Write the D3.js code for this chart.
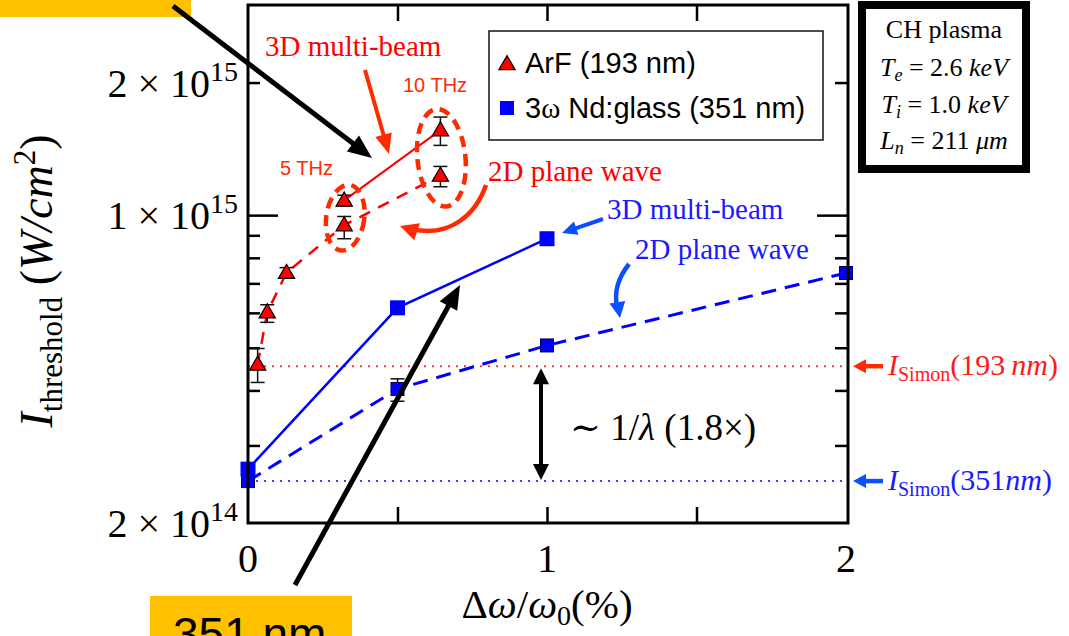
<!DOCTYPE html>
<html>
<head>
<meta charset="utf-8">
<script src="https://cdn.jsdelivr.net/npm/d3@7"></script>
<style>
  body { margin: 0; background: #fff; }
  svg { display: block; }
</style>
</head>
<body>
<script>
var width = 1069, height = 636;

// ArF (193 nm), 2D plane wave: 0.5, 1, 2, 5, 10 THz bandwidth
var arfX2D = [0.0322, 0.0644, 0.1287, 0.3218, 0.6435];
var arfY2D = [4.58e14, 6.02e14, 7.40e14, 9.49e14, 1.23e15];
var arfLo2D = [4.17e14, 5.71e14, 7.20e14, 8.84e14, 1.16e15];
var arfHi2D = [4.98e14, 6.26e14, 7.60e14, 9.93e14, 1.29e15];
// ArF 3D multi-beam: 5 and 10 THz
var arfX3D = [0.3218, 0.6435];
var arfY3D = [1.08e15, 1.56e15];
var arfLo3D = [1.05e15, 1.44e15];
var arfHi3D = [1.11e15, 1.67e15];
// 3w Nd:glass (351 nm)
var ndX3D = [0, 0.5, 1];
var ndY3D = [2.65e14, 6.16e14, 8.84e14];
var ndX2D = [0, 0.5, 1, 2];
var ndY2D = [2.49e14, 4.03e14, 5.06e14, 7.39e14];
var ndLo2D = [null, 3.78e14, 4.98e14, null];
var ndHi2D = [null, 4.25e14, 5.14e14, null];
// Simon thresholds
var simonY = [4.54e14, 2.49e14];
var simonNm = ["193", "351"];
// ticks
var xTickLabels = [0, 1, 2];
var xTicks = [0.5, 1, 1.5];
var yTickLabels = [2e14, 1e15, 2e15];
var yMajor = [1e15];
var yMinor = [3e14, 4e14, 5e14, 6e14, 7e14, 8e14, 9e14, 2e15];

var RED = "#ff0000", ORANGE = "#ff2a00", BLUE = "#0000ff", LBLUE = "#0a50ff";
var SERIF = "'Liberation Serif', 'DejaVu Serif', serif";
var SANS = "'Liberation Sans', Arial, sans-serif";

var svg = d3.select("body").append("svg")
	.attr("width", width).attr("height", height);

var x = d3.scaleLinear().domain([0, 2]).range([248, 846]);
var y = d3.scaleLog().domain([2e14, 3e15]).range([523, 5]);
var pLeft = 248, pRight = 848, pTop = 5, pBottom = 523;

// yellow boxes (slide overlay)
svg.append("rect").attr("x", 0).attr("y", 0).attr("width", 191).attr("height", 17).attr("fill", "#ffc000");
svg.append("rect").attr("x", 150).attr("y", 596).attr("width", 202).attr("height", 45).attr("fill", "#ffc000");
svg.append("text").attr("x", 173).attr("y", 650).attr("font-family", SANS).attr("font-size", 46)
	.text("351 nm");

// ticks
function noDomain(g) { g.select(".domain").remove(); g.selectAll("text").remove(); }
function tickStyle(g) { g.selectAll("line").attr("stroke", "#000").attr("stroke-width", 2.5); }

svg.append("g").attr("transform", "translate(" + pLeft + ",0)")
	.call(d3.axisLeft(y).tickValues(yMinor).tickSize(-12)).call(noDomain).call(tickStyle);
svg.append("g").attr("transform", "translate(" + pLeft + ",0)")
	.call(d3.axisLeft(y).tickValues(yMajor).tickSize(-30)).call(noDomain).call(tickStyle);
svg.append("g").attr("transform", "translate(" + pRight + ",0)")
	.call(d3.axisRight(y).tickValues(yMinor).tickSize(-13)).call(noDomain).call(tickStyle);
svg.append("g").attr("transform", "translate(" + pRight + ",0)")
	.call(d3.axisRight(y).tickValues(yMajor).tickSize(-31)).call(noDomain).call(tickStyle);
svg.append("g").attr("transform", "translate(0," + pBottom + ")")
	.call(d3.axisBottom(x).tickValues(xTicks).tickSize(-16)).call(noDomain).call(tickStyle);
svg.append("g").attr("transform", "translate(0," + pTop + ")")
	.call(d3.axisTop(x).tickValues(xTicks).tickSize(-16)).call(noDomain).call(tickStyle);

// y tick labels  m x 10^e
yTickLabels.forEach(function(v) {
	var e = Math.floor(Math.log10(v) + 1e-9), m = Math.round(v / Math.pow(10, e));
	var t = svg.append("text").attr("x", 238).attr("y", y(v) + 14)
		.attr("text-anchor", "end").attr("font-family", SERIF).attr("font-size", 40);
	t.append("tspan").text(m);
	t.append("tspan").attr("dx", 10).text("\u00d7");
	t.append("tspan").attr("dx", 10).text("10");
	t.append("tspan").attr("dy", -16).attr("font-size", 28).text(e);
});
// x tick labels
svg.selectAll(".xl").data(xTickLabels).enter().append("text")
	.attr("x", function(d) { return x(d); }).attr("y", 572)
	.attr("text-anchor", "middle").attr("font-family", SERIF).attr("font-size", 40)
	.text(function(d) { return d; });

// axis titles
var xt = svg.append("text").attr("x", 547).attr("y", 618).attr("text-anchor", "middle")
	.attr("font-family", SERIF).attr("font-size", 41);
xt.append("tspan").text("\u0394");
xt.append("tspan").attr("font-style", "italic").text("\u03c9");
xt.append("tspan").text("/");
xt.append("tspan").attr("font-style", "italic").text("\u03c9");
xt.append("tspan").attr("dy", 7).attr("font-size", 28).text("0");
xt.append("tspan").attr("dy", -7).text("(%)");

var yt = svg.append("text").attr("transform", "translate(52,281) rotate(-90)")
	.attr("text-anchor", "middle").attr("font-family", SERIF).attr("font-size", 46);
yt.append("tspan").attr("font-style", "italic").text("I");
yt.append("tspan").attr("dy", 10).attr("font-size", 31).text("threshold");
yt.append("tspan").attr("dy", -10).text(" (");
yt.append("tspan").attr("font-style", "italic").text("W/cm");
yt.append("tspan").attr("dy", -17).attr("font-size", 31).text("2");
yt.append("tspan").attr("dy", 17).text(")");

// Simon reference lines
simonY.forEach(function(v, i) {
	svg.append("line").attr("x1", pLeft).attr("x2", pRight).attr("y1", y(v)).attr("y2", y(v))
		.attr("stroke", i ? "#3344ff" : "#ff3333").attr("stroke-width", 2).attr("stroke-dasharray", "2,6");
});

// data lines
var line = d3.line().x(function(d) { return x(d[0]); }).y(function(d) { return y(d[1]); });
svg.append("path").attr("d", line(d3.zip(ndX3D, ndY3D))).attr("fill", "none")
	.attr("stroke", BLUE).attr("stroke-width", 2.5);
svg.append("path").attr("d", line(d3.zip(ndX2D, ndY2D))).attr("fill", "none")
	.attr("stroke", BLUE).attr("stroke-width", 3).attr("stroke-dasharray", "15,9");
svg.append("path").attr("d", line(d3.zip(arfX3D, arfY3D))).attr("fill", "none")
	.attr("stroke", RED).attr("stroke-width", 2);
svg.append("path").attr("d", line(d3.zip(arfX2D, arfY2D))).attr("fill", "none")
	.attr("stroke", RED).attr("stroke-width", 2.5).attr("stroke-dasharray", "12,9");

// error bars
function errBars(xs, lo, hi) {
	xs.forEach(function(xv, i) {
		if (lo[i] == null) return;
		var px = x(xv), g = svg.append("g").attr("stroke", "#111").attr("stroke-width", 1.5);
		g.append("line").attr("x1", px).attr("x2", px).attr("y1", y(lo[i])).attr("y2", y(hi[i]));
		g.append("line").attr("x1", px - 7).attr("x2", px + 7).attr("y1", y(lo[i])).attr("y2", y(lo[i]));
		g.append("line").attr("x1", px - 7).attr("x2", px + 7).attr("y1", y(hi[i])).attr("y2", y(hi[i]));
	});
}
errBars(arfX2D, arfLo2D, arfHi2D);
errBars(arfX3D, arfLo3D, arfHi3D);
errBars(ndX2D, ndLo2D, ndHi2D);

// markers
var tri = d3.symbol().type(d3.symbolTriangle).size(115);
function triangles(xs, ys) {
	svg.selectAll(null).data(d3.zip(xs, ys)).enter().append("path")
		.attr("d", tri).attr("transform", function(d) { return "translate(" + x(d[0]) + "," + (y(d[1]) + 1) + ")"; })
		.attr("fill", RED).attr("stroke", "#000").attr("stroke-width", 1.2);
}
triangles(arfX2D, arfY2D);
triangles(arfX3D, arfY3D);
function squares(xs, ys, s, stroke) {
	svg.selectAll(null).data(d3.zip(xs, ys)).enter().append("rect")
		.attr("x", function(d) { return x(d[0]) - s / 2; }).attr("y", function(d) { return y(d[1]) - s / 2; })
		.attr("width", s).attr("height", s).attr("fill", BLUE)
		.attr("stroke", stroke || "none").attr("stroke-width", 1);
}
squares(ndX2D, ndY2D, 13, "#000050");
squares(ndX3D, ndY3D, 15);

// frame
svg.append("rect").attr("x", pLeft).attr("y", pTop).attr("width", pRight - pLeft).attr("height", pBottom - pTop)
	.attr("fill", "none").attr("stroke", "#000").attr("stroke-width", 3);

// legend
svg.append("rect").attr("x", 489).attr("y", 31).attr("width", 334).attr("height", 109)
	.attr("fill", "#fff").attr("stroke", "#111").attr("stroke-width", 1.5);
svg.append("path").attr("d", tri).attr("transform", "translate(507,65)")
	.attr("fill", RED).attr("stroke", "#000").attr("stroke-width", 1.2);
svg.append("text").attr("x", 525).attr("y", 73).attr("font-family", SANS).attr("font-size", 29).text("ArF (193 nm)");
svg.append("rect").attr("x", 500).attr("y", 101).attr("width", 14).attr("height", 14).attr("fill", BLUE);
var l2 = svg.append("text").attr("x", 525).attr("y", 118).attr("font-family", SANS).attr("font-size", 29);
l2.append("tspan").text("3");
l2.append("tspan").attr("font-family", SERIF).text("\u03c9");
l2.append("tspan").text(" Nd:glass (351 nm)");

// plasma parameter box
svg.append("rect").attr("x", 862).attr("y", 5).attr("width", 164).attr("height", 164)
	.attr("fill", "#fff").attr("stroke", "#000").attr("stroke-width", 8);
var pb = [["T", "e", " = 2.6 ", "keV"], ["T", "i", " = 1.0 ", "keV"], ["L", "n", " = 211 ", "\u03bcm"]];
svg.append("text").attr("x", 944).attr("y", 38).attr("text-anchor", "middle")
	.attr("font-family", SERIF).attr("font-size", 26).text("CH plasma");
pb.forEach(function(r, i) {
	var t = svg.append("text").attr("x", 944).attr("y", 76 + i * 36.5).attr("text-anchor", "middle")
		.attr("font-family", SERIF).attr("font-size", 26);
	t.append("tspan").attr("font-style", "italic").text(r[0]);
	t.append("tspan").attr("dy", 5).attr("font-size", 18).attr("font-style", "italic").text(r[1]);
	t.append("tspan").attr("dy", -5).text(r[2]);
	t.append("tspan").attr("font-style", "italic").text(r[3]);
});

// arrows
function head(x1, y1, x2, y2, len, wid, col) {
	var a = Math.atan2(y2 - y1, x2 - x1);
	var bx = x2 - len * Math.cos(a), by = y2 - len * Math.sin(a);
	var px = -Math.sin(a) * wid / 2, py = Math.cos(a) * wid / 2;
	svg.append("path").attr("fill", col)
		.attr("d", "M" + x2 + "," + y2 + "L" + (bx + px) + "," + (by + py) + "L" + (bx - px) + "," + (by - py) + "Z");
}
function arrow(x1, y1, x2, y2, col, w, len, wid) {
	var a = Math.atan2(y2 - y1, x2 - x1);
	svg.append("line").attr("x1", x1).attr("y1", y1)
		.attr("x2", x2 - len * 0.7 * Math.cos(a)).attr("y2", y2 - len * 0.7 * Math.sin(a))
		.attr("stroke", col).attr("stroke-width", w);
	head(x1, y1, x2, y2, len, wid, col);
}
function curved(d, c2x, c2y, ex, ey, col, w, len, wid) {
	svg.append("path").attr("d", d).attr("fill", "none").attr("stroke", col).attr("stroke-width", w);
	head(c2x, c2y, ex, ey, len, wid, col);
}

// Simon labels
simonY.forEach(function(v, i) {
	var py = y(v), col = i ? "#1a1aff" : "#ff1a1a";
	arrow(883, py, 853, py, i ? LBLUE : ORANGE, 4.5, 13, 14);
	var t = svg.append("text").attr("x", 888).attr("y", py + 9).attr("font-family", SERIF)
		.attr("font-size", 30).attr("fill", col);
	t.append("tspan").attr("font-style", "italic").text("I");
	t.append("tspan").attr("dy", 6).attr("font-size", 20).text("Simon");
	t.append("tspan").attr("dy", -6).text("(" + simonNm[i]);
	t.append("tspan").attr("font-style", "italic").text(i ? "nm" : "\u2009nm");
	t.append("tspan").text(")");
});

// 1/lambda double arrow
var ax = 541, ay1 = y(simonY[0]) + 2, ay2 = y(simonY[1]) - 1;
svg.append("line").attr("x1", ax).attr("x2", ax).attr("y1", ay1 + 12).attr("y2", ay2 - 12)
	.attr("stroke", "#000").attr("stroke-width", 4);
head(ax, ay2, ax, ay1, 16, 16, "#000");
head(ax, ay1, ax, ay2, 16, 16, "#000");
var lam = svg.append("text").attr("x", 570).attr("y", 440).attr("font-family", SERIF).attr("font-size", 37);
lam.append("tspan").text("\u223c 1/");
lam.append("tspan").attr("font-style", "italic").text("\u03bb");
lam.append("tspan").text(" (1.8\u00d7)");

// red annotations
svg.append("text").attr("x", 265).attr("y", 56).attr("font-family", SERIF).attr("font-size", 29)
	.attr("fill", RED).text("3D multi-beam");
arrow(365, 70, 389, 154, ORANGE, 4, 20, 17);
svg.append("text").attr("x", 403).attr("y", 92).attr("font-family", SANS).attr("font-size", 20)
	.attr("fill", ORANGE).text("10 THz");
svg.append("text").attr("x", 280).attr("y", 175).attr("font-family", SANS).attr("font-size", 20)
	.attr("fill", ORANGE).text("5 THz");
svg.append("text").attr("x", 488).attr("y", 181).attr("font-family", SERIF).attr("font-size", 29)
	.attr("fill", RED).text("2D plane wave");
curved("M486,185 C476,214 450,238 412,229", 430, 236, 400, 226, ORANGE, 4.5, 18, 18);

// dashed ellipses round the 5 and 10 THz pairs
[[arfX2D[3], arfY2D[3], arfY3D[0], 19, 33, 8], [arfX2D[4], arfY2D[4], arfY3D[1], 24, 49, -6]].forEach(function(e) {
	var cx = x(e[0]) + 1, cy = (y(e[1]) + y(e[2])) / 2 + 5;
	svg.append("ellipse").attr("cx", 0).attr("cy", 0).attr("rx", e[3]).attr("ry", e[4])
		.attr("transform", "translate(" + cx + "," + cy + ") rotate(" + e[5] + ")")
		.attr("fill", "none").attr("stroke", ORANGE).attr("stroke-width", 4.5).attr("stroke-dasharray", "11,7");
});

// blue annotations
svg.append("text").attr("x", 607).attr("y", 219).attr("font-family", SERIF).attr("font-size", 29)
	.attr("fill", "#1a1aff").text("3D multi-beam");
arrow(603, 219, 562, 233, LBLUE, 4, 15, 14);
svg.append("text").attr("x", 635).attr("y", 259).attr("font-family", SERIF).attr("font-size", 29)
	.attr("fill", "#1a1aff").text("2D plane wave");
curved("M629,264 C618,278 614,292 617,306", 617, 300, 620, 318, LBLUE, 4.5, 16, 16);

// black slide arrows
arrow(173, 6, 372, 158, "#000", 5, 24, 20);
arrow(295, 585, 460, 285, "#000", 5, 24, 20);
</script>
</body>
</html>
